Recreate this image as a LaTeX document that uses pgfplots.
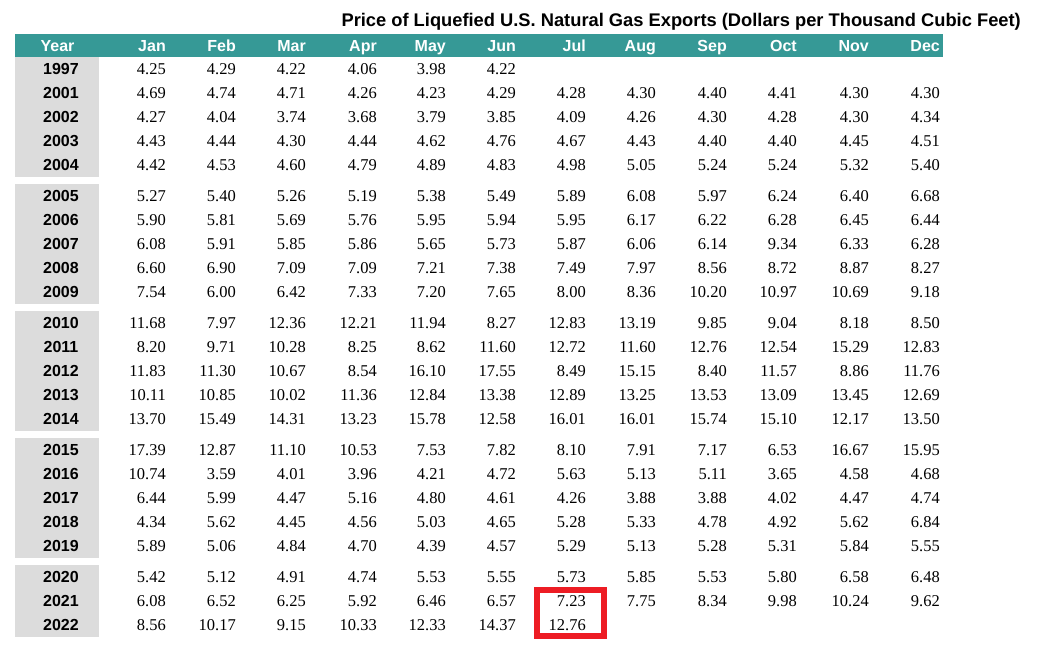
\documentclass[border=0pt]{standalone}
\usepackage{fontspec}
\setmainfont{Liberation Serif}
\newfontfamily\sans{Liberation Sans}
\usepackage{pgfplots}
\usepackage{pgfplotstable}
\pgfplotsset{compat=1.18}
\definecolor{headteal}{RGB}{54,153,150}
\definecolor{yeargray}{RGB}{220,220,220}
\definecolor{boxred}{RGB}{237,28,36}

% row centre (px from top), year, monthly prices
\pgfplotstableread[col sep=comma]{
yr,y,Jan,Feb,Mar,Apr,May,Jun,Jul,Aug,Sep,Oct,Nov,Dec
1997,68,4.25,4.29,4.22,4.06,3.98,4.22,,,,,,
2001,92,4.69,4.74,4.71,4.26,4.23,4.29,4.28,4.30,4.40,4.41,4.30,4.30
2002,116,4.27,4.04,3.74,3.68,3.79,3.85,4.09,4.26,4.30,4.28,4.30,4.34
2003,140,4.43,4.44,4.30,4.44,4.62,4.76,4.67,4.43,4.40,4.40,4.45,4.51
2004,164,4.42,4.53,4.60,4.79,4.89,4.83,4.98,5.05,5.24,5.24,5.32,5.40
2005,195,5.27,5.40,5.26,5.19,5.38,5.49,5.89,6.08,5.97,6.24,6.40,6.68
2006,219,5.90,5.81,5.69,5.76,5.95,5.94,5.95,6.17,6.22,6.28,6.45,6.44
2007,243,6.08,5.91,5.85,5.86,5.65,5.73,5.87,6.06,6.14,9.34,6.33,6.28
2008,267,6.60,6.90,7.09,7.09,7.21,7.38,7.49,7.97,8.56,8.72,8.87,8.27
2009,291,7.54,6.00,6.42,7.33,7.20,7.65,8.00,8.36,10.20,10.97,10.69,9.18
2010,322,11.68,7.97,12.36,12.21,11.94,8.27,12.83,13.19,9.85,9.04,8.18,8.50
2011,346,8.20,9.71,10.28,8.25,8.62,11.60,12.72,11.60,12.76,12.54,15.29,12.83
2012,370,11.83,11.30,10.67,8.54,16.10,17.55,8.49,15.15,8.40,11.57,8.86,11.76
2013,394,10.11,10.85,10.02,11.36,12.84,13.38,12.89,13.25,13.53,13.09,13.45,12.69
2014,418,13.70,15.49,14.31,13.23,15.78,12.58,16.01,16.01,15.74,15.10,12.17,13.50
2015,449,17.39,12.87,11.10,10.53,7.53,7.82,8.10,7.91,7.17,6.53,16.67,15.95
2016,473,10.74,3.59,4.01,3.96,4.21,4.72,5.63,5.13,5.11,3.65,4.58,4.68
2017,497,6.44,5.99,4.47,5.16,4.80,4.61,4.26,3.88,3.88,4.02,4.47,4.74
2018,521,4.34,5.62,4.45,4.56,5.03,4.65,5.28,5.33,4.78,4.92,5.62,6.84
2019,545,5.89,5.06,4.84,4.70,4.39,4.57,5.29,5.13,5.28,5.31,5.84,5.55
2020,576,5.42,5.12,4.91,4.74,5.53,5.55,5.73,5.85,5.53,5.80,6.58,6.48
2021,600,6.08,6.52,6.25,5.92,6.46,6.57,7.23,7.75,8.34,9.98,10.24,9.62
2022,624,8.56,10.17,9.15,10.33,12.33,14.37,12.76,,,,,
}\prices

% header labels: right edge of each column
\pgfplotstableread[col sep=comma]{
x,lab
166,Jan
236,Feb
306,Mar
377,Apr
446,May
516,Jun
586,Jul
656,Aug
727,Sep
797,Oct
869,Nov
940,Dec
}\heads

\newcommand{\numfont}{\fontsize{16.5}{18}\selectfont}
\newcommand{\hdfont}{\sans\bfseries\fontsize{16}{18}\selectfont}
\newcommand{\titlefont}{\sans\bfseries\fontsize{18.3}{20}\selectfont}

\begin{document}
\begin{tikzpicture}
\begin{axis}[
  width=1044pt, height=649pt, scale only axis,
  xmin=0, xmax=1044, ymin=0, ymax=649,
  y dir=reverse, hide axis, clip=false,
]
% background
\addplot[draw=none, fill=white] coordinates {(0,0) (1044,0) (1044,649) (0,649)} -- cycle;
% header band
\addplot[draw=none, fill=headteal] coordinates {(15,34) (943,34) (943,57) (15,57)} -- cycle;
% year column blocks
\addplot[draw=none, fill=yeargray] coordinates {(15,57) (99,57) (99,177) (15,177)} -- cycle;
\addplot[draw=none, fill=yeargray] coordinates {(15,184) (99,184) (99,304) (15,304)} -- cycle;
\addplot[draw=none, fill=yeargray] coordinates {(15,311) (99,311) (99,431) (15,431)} -- cycle;
\addplot[draw=none, fill=yeargray] coordinates {(15,438) (99,438) (99,558) (15,558)} -- cycle;
\addplot[draw=none, fill=yeargray] coordinates {(15,565) (99,565) (99,637) (15,637)} -- cycle;

% header text
\addplot[only marks, mark=none, point meta=explicit symbolic, nodes near coords,
  nodes near coords style={anchor=base east, inner sep=0pt, text=white, font=\hdfont}]
  table[x=x, y expr=51, meta=lab] {\heads};
\addplot[only marks, mark=none, point meta=explicit symbolic, nodes near coords,
  nodes near coords style={anchor=base, inner sep=0pt, text=white, font=\hdfont}]
  coordinates {(57.5,51) [Year]};

% years
\addplot[only marks, mark=none, point meta=explicit symbolic, nodes near coords,
  nodes near coords style={anchor=base, inner sep=0pt, font=\hdfont}]
  table[x expr=61, y expr=\thisrow{y}+6, meta=yr] {\prices};

% monthly values, right-aligned in each column
\foreach \m/\xr in {Jan/166,Feb/236,Mar/306,Apr/377,May/446,Jun/516,Jul/586,Aug/656,Sep/727,Oct/797,Nov/869,Dec/940}{
  \edef\tmp{\noexpand\addplot[only marks, mark=none, point meta=explicit symbolic, nodes near coords,
    nodes near coords style={anchor=base east, inner sep=0pt, font=\noexpand\numfont}]
    table[x expr=\xr, y expr=\noexpand\thisrow{y}+6, meta=\m] {\noexpand\prices};}
  \tmp
}

% highlight box
\addplot[draw=boxred, line width=6pt] coordinates {(537.3,590.3) (604,590.3) (604,636) (537.3,636)} -- cycle;

\node[anchor=base east, inner sep=0pt, font=\titlefont] at (axis cs:1021,26)
  {Price of Liquefied U.S. Natural Gas Exports (Dollars per Thousand Cubic Feet)};
\end{axis}
\end{tikzpicture}
\end{document}
